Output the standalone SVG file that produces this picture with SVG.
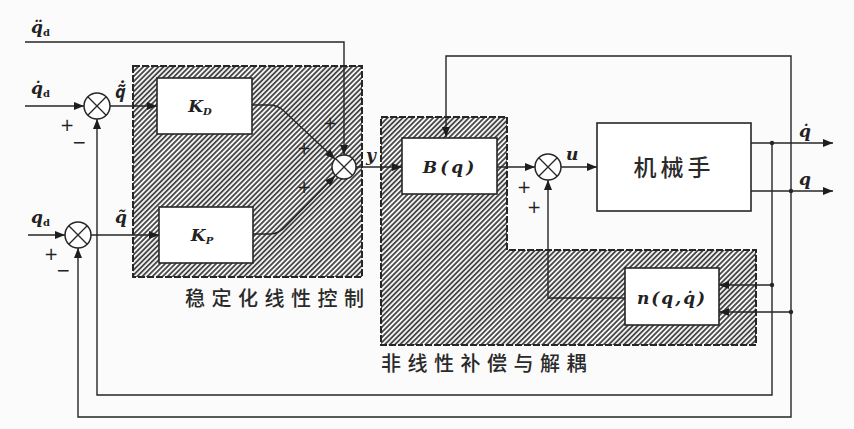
<svg xmlns="http://www.w3.org/2000/svg" width="854" height="429" viewBox="0 0 854 429">
<style>
.ln{fill:none;stroke:#262626;stroke-width:1.4}
.box{fill:#fff;stroke:#262626;stroke-width:1.6}
.sum circle{fill:#fff;stroke:#262626;stroke-width:1.5}
.sum path{stroke:#262626;stroke-width:1.3;fill:none}
.hatch{fill:url(#h);stroke:#262626;stroke-width:2;stroke-dasharray:7 2}
.m{font-family:"DejaVu Serif","Liberation Serif",serif;font-style:italic;font-weight:bold;fill:#222}
.s{font-family:"DejaVu Sans","Liberation Sans",sans-serif;fill:#222;font-size:17px}
.cn{font-family:"Noto Sans CJK SC","Noto Sans CJK JP",sans-serif;font-weight:500;fill:#2a2a2a;font-size:20px;letter-spacing:6.5px}
.dot{fill:#262626}
</style>
<defs>
<pattern id="h" patternUnits="userSpaceOnUse" width="3.6" height="3.6" patternTransform="rotate(45)">
<rect width="3.6" height="3.6" fill="#f4f4f4"/>
<line x1="0.9" y1="0" x2="0.9" y2="3.6" stroke="#333" stroke-width="1.6"/>
</pattern>
<marker id="a" viewBox="0 0 10 8" refX="10" refY="4" markerWidth="11" markerHeight="8" markerUnits="userSpaceOnUse" orient="auto">
<path d="M0,0 L10,4 L0,8 z" fill="#1e1e1e"/>
</marker>
</defs>
<rect width="854" height="429" fill="#fbfbfb"/>

<g id="region-linear">
<rect class="hatch" x="133" y="66" width="229" height="211"/>
<text class="cn" x="185" y="306">稳定化线性控制</text>
</g>
<g id="region-nonlinear">
<path class="hatch" d="M381,117 H507 V250 H756 V345 H381 Z"/>
<text class="cn" x="381" y="371">非线性补偿与解耦</text>
</g>

<g id="connectors">
<path class="ln" d="M25,42 H344 V155" marker-end="url(#a)"/>
<path class="ln" d="M25,106 H84" marker-end="url(#a)"/>
<path class="ln" d="M110,106 H157" marker-end="url(#a)"/>
<path class="ln" d="M28,235 H65" marker-end="url(#a)"/>
<path class="ln" d="M91,235 H159" marker-end="url(#a)"/>
<path class="ln" d="M252,105 H270 Q278,105 285,112 L335,159" marker-end="url(#a)"/>
<path class="ln" d="M253,234 H270 Q279,234 286,226 L335,176" marker-end="url(#a)"/>
<path class="ln" d="M356,167 H402" marker-end="url(#a)"/>
<path class="ln" d="M497,167 H535" marker-end="url(#a)"/>
<path class="ln" d="M561,167 H597" marker-end="url(#a)"/>
<path class="ln" d="M751,143 H833" marker-end="url(#a)"/>
<path class="ln" d="M751,191 H833" marker-end="url(#a)"/>
<path class="ln" d="M791,191 V56 H446 V137" marker-end="url(#a)"/>
<path class="ln" d="M791,191 V417 H78 V248" marker-end="url(#a)"/>
<path class="ln" d="M772,143 V395 H97 V119" marker-end="url(#a)"/>
<path class="ln" d="M772,285 H719" marker-end="url(#a)"/>
<path class="ln" d="M791,312 H719" marker-end="url(#a)"/>
<path class="ln" d="M625,298 H548 V180" marker-end="url(#a)"/>
<circle class="dot" cx="772" cy="143" r="2.2"/>
<circle class="dot" cx="791" cy="191" r="2.2"/>
<circle class="dot" cx="772" cy="285" r="2.2"/>
<circle class="dot" cx="791" cy="312" r="2.2"/>
</g>

<g id="labels">
<text class="m" x="31" y="33" font-size="17">q̈<tspan font-size="10" dy="3" font-style="normal">d</tspan></text>
<text class="m" x="31" y="94" font-size="17">q̇<tspan font-size="10" dy="3" font-style="normal">d</tspan></text>
<text class="m" x="31" y="223" font-size="17">q<tspan font-size="10" dy="3" font-style="normal">d</tspan></text>
<text x="115" y="98" font-size="18" font-family="Noto Sans,DejaVu Sans,sans-serif" font-style="italic" font-weight="bold" fill="#222">q̃̇</text>
<text class="m" x="115" y="223" font-size="17">q̃</text>
<text class="m" x="366" y="161" font-size="17">y</text>
<text class="m" x="566" y="160" font-size="17">u</text>
<text class="m" x="799" y="137" font-size="17">q̇</text>
<text class="m" x="799" y="185" font-size="17">q</text>
<text class="s" x="60" y="131">+</text>
<text class="s" x="72" y="148">−</text>
<text class="s" x="44" y="260">+</text>
<text class="s" x="56" y="276">−</text>
<text class="s" x="323" y="129">+</text>
<text class="s" x="297" y="154">+</text>
<text class="s" x="297" y="193">+</text>
<text class="s" x="517" y="193">+</text>
<text class="s" x="527" y="213">+</text>
</g>

<g id="sum1" class="sum"><circle cx="97" cy="106" r="13"/><path d="M87.8,96.8 L106.2,115.2 M106.2,96.8 L87.8,115.2"/></g>
<g id="sum2" class="sum"><circle cx="78" cy="235" r="13"/><path d="M68.8,225.8 L87.2,244.2 M87.2,225.8 L68.8,244.2"/></g>
<g id="sum3" class="sum"><circle cx="344" cy="167" r="12"/><path d="M335.5,158.5 L352.5,175.5 M352.5,158.5 L335.5,175.5"/></g>
<g id="sum4" class="sum"><circle cx="548" cy="167" r="13"/><path d="M538.8,157.8 L557.2,176.2 M557.2,157.8 L538.8,176.2"/></g>

<g id="KD"><rect class="box" x="157" y="78" width="95" height="56"/><text class="m" x="200" y="112" font-size="17" text-anchor="middle">K<tspan font-size="10" dy="3">D</tspan></text></g>
<g id="KP"><rect class="box" x="159" y="207" width="94" height="56"/><text class="m" x="202" y="241" font-size="17" text-anchor="middle">K<tspan font-size="10" dy="3">P</tspan></text></g>
<g id="Bq"><rect class="box" x="402" y="138" width="95" height="56"/><text class="m" x="450" y="173" font-size="17" text-anchor="middle" letter-spacing="3">B(q)</text></g>
<g id="manipulator"><rect class="box" x="597" y="123" width="154" height="88"/><text x="674" y="176" font-family="Noto Sans CJK SC,sans-serif" font-weight="500" font-size="23" fill="#2a2a2a" text-anchor="middle" letter-spacing="4">机械手</text></g>
<g id="n"><rect class="box" x="625" y="268" width="94" height="57"/><text class="m" x="672" y="304" font-size="17" text-anchor="middle" letter-spacing="2">n(q,q̇)</text></g>
</svg>
